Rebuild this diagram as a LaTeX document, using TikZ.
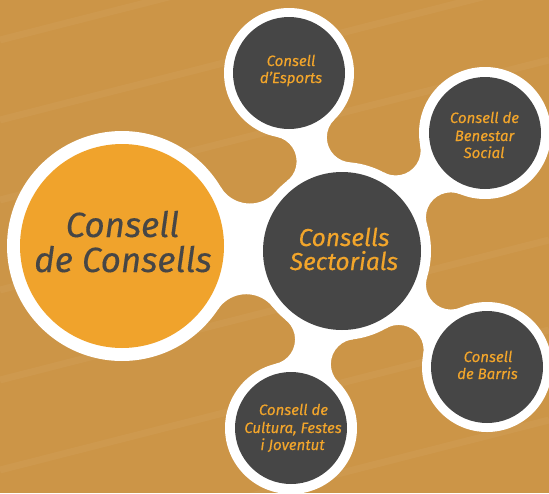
\documentclass[tikz,border=0pt]{standalone}
\usepackage{fontspec}
\setmainfont{Fira Sans}[ItalicFeatures={FakeBold=0.35}]
\usetikzlibrary{calc}
\definecolor{bg}{HTML}{CC9547}
\definecolor{inor}{HTML}{F0A32C}
\definecolor{dk}{HTML}{464646}
\definecolor{txor}{HTML}{F2A52B}
% metaball bridge between two circles: x1,y1,R1,x2,y2,R2,fillet radius
\newcommand\mbridge[7]{%
  \pgfmathsetmacro\mbA{(#3+#7)/100}%
  \pgfmathsetmacro\mbB{(#6+#7)/100}%
  \pgfmathsetmacro\mbD{veclen((#4-#1)/100,(#5-#2)/100)}%
  \pgfmathsetmacro\mbT{atan2(#5-#2,#4-#1)}%
  \pgfmathsetmacro\mbAl{acos((\mbA*\mbA+\mbD*\mbD-\mbB*\mbB)/(2*\mbA*\mbD))}%
  \pgfmathsetmacro\mbRA{\mbA*100}%
  \coordinate (mbf1) at ($(#1,#2)+(\mbT+\mbAl:\mbRA)$);%
  \coordinate (mbf2) at ($(#1,#2)+(\mbT-\mbAl:\mbRA)$);%
  \begin{scope}
    \clip (#1,#2) -- (mbf1) -- (#4,#5) -- (mbf2) -- cycle;
    \fill[white, even odd rule] (-20,-20) rectangle (570,520)
      (mbf1) circle (#7) (mbf2) circle (#7);
  \end{scope}%
}
\tikzset{
  ring/.style={circle, fill=white, draw=none, inner sep=0pt},
  core/.style={circle, fill=dk, draw=none, inner sep=0pt},
  stripe/.style={line width=7pt, white, opacity=0.04},
  smalltxt/.style={anchor=base, inner sep=0pt, text=txor,
    font=\fontsize{15}{17}\selectfont\itshape},
  midtxt/.style={anchor=base, inner sep=0pt, text=txor,
    font=\fontsize{24.5}{24}\selectfont\itshape},
  bigtxt/.style={anchor=base, inner sep=0pt, text=dk,
    font=\fontsize{35}{35}\selectfont\itshape},
}
\begin{document}
\begin{tikzpicture}[x=1pt,y=-1pt]
\useasboundingbox (0,0) rectangle (549,493);
\clip (0,0) rectangle (549,493);
\fill[bg] (0,0) rectangle (549,493);
% faint background stripes
\foreach \yy in {40,120,200,290,380,470,560,640} {
  \draw[stripe] (0,\yy) -- (549,\yy-140);
}
% bridges
\mbridge{122}{246}{115}{342}{251}{89}{34}
\mbridge{289}{73}{65}{342}{251}{89}{25}
\mbridge{485}{133}{66}{342}{251}{89}{25}
\mbridge{487}{367}{65}{342}{251}{89}{25}
\mbridge{291}{428}{66}{342}{251}{89}{25}
% white rings
\node[ring, minimum size=230pt] (bigw) at (122,246) {};
\node[ring, minimum size=178pt] (cenw) at (342,251) {};
\node[ring, minimum size=130pt] (espw) at (289,73) {};
\node[ring, minimum size=132pt] (benw) at (485,133) {};
\node[ring, minimum size=130pt] (barw) at (487,367) {};
\node[ring, minimum size=132pt] (culw) at (291,428) {};
% inner discs
\node[circle, fill=inor, draw=none, inner sep=0pt, minimum size=204pt] (big) at (122,246) {};
\node[core, minimum size=158pt] (cen) at (342,251) {};
\node[core, minimum size=112pt] (esp) at (289,73) {};
\node[core, minimum size=112pt] (ben) at (485,133) {};
\node[core, minimum size=112pt] (bar) at (487,367) {};
\node[core, minimum size=112pt] (cul) at (291,428) {};
% texts
\node[bigtxt] (big1) at (122.5,237) {Consell};
\node[bigtxt] (big2) at (123,272) {de Consells};
\node[midtxt] (cen1) at (344,246) {Consells};
\node[midtxt] (cen2) at (344,270) {Sectorials};
\node[smalltxt] (esp1) at (291,66) {Consell};
\node[smalltxt] (esp2) at (291,83) {d'Esports};
\node[smalltxt] (ben1) at (484.5,123) {Consell de};
\node[smalltxt] (ben2) at (484.5,141) {Benestar};
\node[smalltxt] (ben3) at (484,158) {Social};
\node[smalltxt] (bar1) at (488,362) {Consell};
\node[smalltxt] (bar2) at (487.5,379) {de Barris};
\node[smalltxt] (cul1) at (293.5,415) {Consell de};
\node[smalltxt] (cul2) at (293,433) {Cultura, Festes};
\node[smalltxt] (cul3) at (292.5,450) {i Joventut};
\end{tikzpicture}
\end{document}
